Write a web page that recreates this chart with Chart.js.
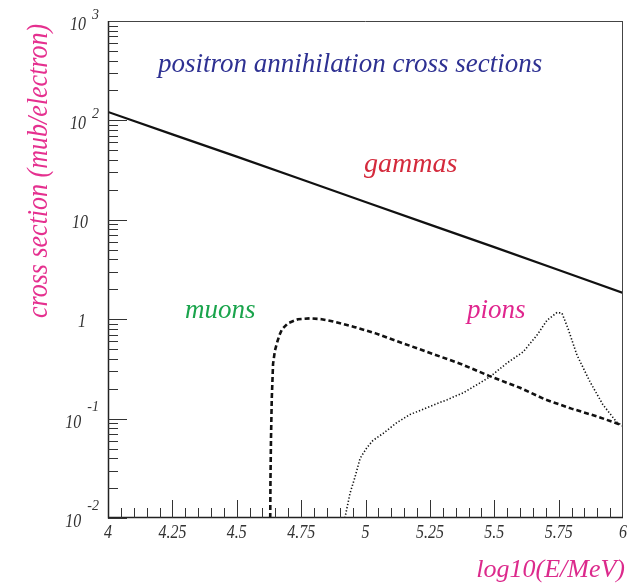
<!DOCTYPE html>
<html>
<head>
<meta charset="utf-8">
<script src="https://cdn.jsdelivr.net/npm/chart.js@4.4.1/dist/chart.umd.min.js"></script>
<style>
  html, body { margin: 0; padding: 0; background: #fff; }
  #chart { display: block; }
</style>
</head>
<body>
<canvas id="chart" width="635" height="583"></canvas>
<script>
// ---- data: log10(E/MeV) vs cross section (mub/electron) ----
const gammaE = [4.0, 4.25, 4.5, 4.75, 5.0, 5.25, 5.5, 5.75, 6.0];
const gammaSigma = [121.6, 72.4, 43.2, 25.6, 15.1, 8.95, 5.31, 3.13, 1.84];

const muonE = [4.630, 4.631, 4.633, 4.636, 4.641, 4.648, 4.656, 4.666, 4.676, 4.699, 4.738, 4.784,
  4.830, 4.870, 4.959, 5.037, 5.11, 5.24, 5.37, 5.48, 5.60, 5.70, 5.80, 5.90, 6.0];
const muonSigma = [0.0100, 0.0251, 0.0631, 0.158, 0.355, 0.479, 0.575, 0.692, 0.794, 0.912, 1.00, 1.02,
  1.00, 0.955, 0.832, 0.724, 0.617, 0.468, 0.355, 0.269, 0.204, 0.155, 0.126, 0.105, 0.0851];

const pionE = [4.920, 4.940, 4.959, 4.979, 5.006, 5.029, 5.068, 5.122, 5.173, 5.239, 5.317, 5.38,
  5.445, 5.483, 5.550, 5.612, 5.666, 5.705, 5.744, 5.763, 5.786, 5.821, 5.872, 5.922, 5.977, 6.0];
const pionSigma = [0.0100, 0.0178, 0.0257, 0.0398, 0.0513, 0.0603, 0.0708, 0.0912, 0.110, 0.129, 0.155, 0.182,
  0.229, 0.263, 0.363, 0.468, 0.692, 0.977, 1.17, 1.15, 0.813, 0.437, 0.234, 0.138, 0.0912, 0.0851];

// ---- axis ticks ----
const xTickValues = [4, 4.25, 4.5, 4.75, 5, 5.25, 5.5, 5.75, 6];
const xTickLabels = ["4", "4.25", "4.5", "4.75", "5", "5.25", "5.5", "5.75", "6"];
const yTickValues = [0.01, 0.1, 1, 10, 100, 1000];
const yTickBase = ["10", "10", "1", "10", "10", "10"];
const yTickExp = ["-2", "-1", "", "", "2", "3"];

const SERIF = "'Liberation Serif', 'Times New Roman', serif";

function toPoints(xs, ys) {
  return xs.map((x, i) => ({ x, y: ys[i] }));
}

// text with optional vertical stretch / rotation
function drawText(ctx, str, x, y, o) {
  ctx.save();
  ctx.translate(x, y);
  if (o.rotate) ctx.rotate(o.rotate);
  ctx.scale(1, o.sy || 1);
  ctx.font = o.font;
  ctx.fillStyle = o.color;
  ctx.textAlign = o.align || "left";
  ctx.textBaseline = "alphabetic";
  ctx.fillText(str, 0, 0);
  ctx.restore();
}

function hline(ctx, x1, x2, y) {
  ctx.beginPath();
  ctx.moveTo(x1, y);
  ctx.lineTo(x2, y);
  ctx.stroke();
}
function vline(ctx, x, y1, y2) {
  ctx.beginPath();
  ctx.moveTo(x, y1);
  ctx.lineTo(x, y2);
  ctx.stroke();
}

// frame, inward ticks and all labels
const frameAndLabels = {
  id: "frameAndLabels",
  beforeDraw(chart) {
    const ctx = chart.ctx;
    ctx.save();
    ctx.fillStyle = "#ffffff";
    ctx.fillRect(0, 0, chart.width, chart.height);
    ctx.restore();
  },
  afterDraw(chart) {
    const ctx = chart.ctx;
    const xs = chart.scales.x, ys = chart.scales.y;
    const { left, right, top, bottom } = chart.chartArea;
    ctx.save();

    // frame
    ctx.lineWidth = 1;
    ctx.strokeStyle = "#444";
    hline(ctx, left, right, Math.round(top) + 0.5);
    vline(ctx, Math.round(right) - 0.5, top, bottom);
    ctx.strokeStyle = "#222";
    ctx.lineWidth = 1.5;
    vline(ctx, Math.round(left) + 0.5, top, bottom + 0.5);
    hline(ctx, left, right, Math.round(bottom) - 0.5);

    // y ticks: decades long, 2..9 short
    ctx.lineWidth = 1;
    ctx.strokeStyle = "#333";
    for (let e = -2; e <= 2; e++) {
      for (let m = 1; m <= 9; m++) {
        const v = m * Math.pow(10, e);
        const py = Math.round(ys.getPixelForValue(v)) + 0.5;
        hline(ctx, left, left + (m === 1 ? 19 : 10), py);
      }
    }

    // x ticks: every 0.05, long every 0.25
    for (let i = 1; i < 40; i++) {
      const v = 4 + i * 0.05;
      const px = Math.round(xs.getPixelForValue(v)) + 0.5;
      vline(ctx, px, bottom, bottom - (i % 5 === 0 ? 18 : 10));
    }

    // x tick labels
    const tickFont = "italic 16px " + SERIF;
    xTickValues.forEach((v, i) => {
      drawText(ctx, xTickLabels[i], xs.getPixelForValue(v), bottom + 20, {
        font: tickFont, color: "#333", align: "center", sy: 1.13
      });
    });

    // y tick labels (10 with superscript exponent)
    const expFont = "italic 14px " + SERIF;
    yTickValues.forEach((v, i) => {
      const py = ys.getPixelForValue(v);
      const exp = yTickExp[i];
      if (exp) {
        ctx.font = expFont;
        const w = ctx.measureText(exp).width;
        const neg = exp.startsWith("-");
        drawText(ctx, exp, 99, py - (neg ? 8 : 2), { font: expFont, color: "#333", align: "right", sy: 1.1 });
        drawText(ctx, yTickBase[i], 99 - w - 6, py + 9, { font: tickFont, color: "#333", align: "right", sy: 1.13 });
      } else {
        drawText(ctx, yTickBase[i], yTickBase[i] === "1" ? 86 : 88, py + 8, {
          font: tickFont, color: "#333", align: "right", sy: 1.13
        });
      }
    });

    // titles and curve names
    drawText(ctx, "positron annihilation cross sections", 158, 72, {
      font: "italic 27px " + SERIF, color: "#2e3192"
    });
    drawText(ctx, "gammas", 364, 172, { font: "italic 28px " + SERIF, color: "#d42a3c" });
    drawText(ctx, "muons", 185, 318, { font: "italic 27px " + SERIF, color: "#1aa44c" });
    drawText(ctx, "pions", 467, 318, { font: "italic 27px " + SERIF, color: "#e0268e" });
    drawText(ctx, "log10(E/MeV)", 625, 577, {
      font: "italic 26px " + SERIF, color: "#dc2a8c", align: "right"
    });
    drawText(ctx, "cross section (mub/electron)", 47, 318, {
      font: "italic 26px " + SERIF, color: "#e5308f", rotate: -Math.PI / 2, sy: 1.1
    });

    ctx.restore();
  }
};

new Chart(document.getElementById("chart"), {
  type: "scatter",
  data: {
    datasets: [
      {
        label: "gammas",
        data: toPoints(gammaE, gammaSigma),
        showLine: true,
        borderColor: "#111",
        borderWidth: 2.2,
        pointRadius: 0,
        tension: 0
      },
      {
        label: "muons",
        data: toPoints(muonE, muonSigma),
        showLine: true,
        borderColor: "#111",
        borderWidth: 2.6,
        borderDash: [5, 3],
        pointRadius: 0,
        tension: 0
      },
      {
        label: "pions",
        data: toPoints(pionE, pionSigma),
        showLine: true,
        borderColor: "#111",
        borderWidth: 1.6,
        borderDash: [1.3, 2],
        pointRadius: 0,
        tension: 0
      }
    ]
  },
  options: {
    responsive: false,
    animation: false,
    layout: { padding: { left: 108, top: 21, right: 12, bottom: 65 } },
    plugins: {
      legend: { display: false },
      tooltip: { enabled: false },
      title: { display: false }
    },
    scales: {
      x: {
        type: "linear",
        min: 4,
        max: 6,
        ticks: { display: false },
        grid: { display: false, drawTicks: false },
        border: { display: false },
        afterFit(scale) { scale.height = 0; }
      },
      y: {
        type: "logarithmic",
        min: 0.01,
        max: 1000,
        ticks: { display: false },
        grid: { display: false, drawTicks: false },
        border: { display: false },
        afterFit(scale) { scale.width = 0; }
      }
    }
  },
  plugins: [frameAndLabels]
});
</script>
</body>
</html>
